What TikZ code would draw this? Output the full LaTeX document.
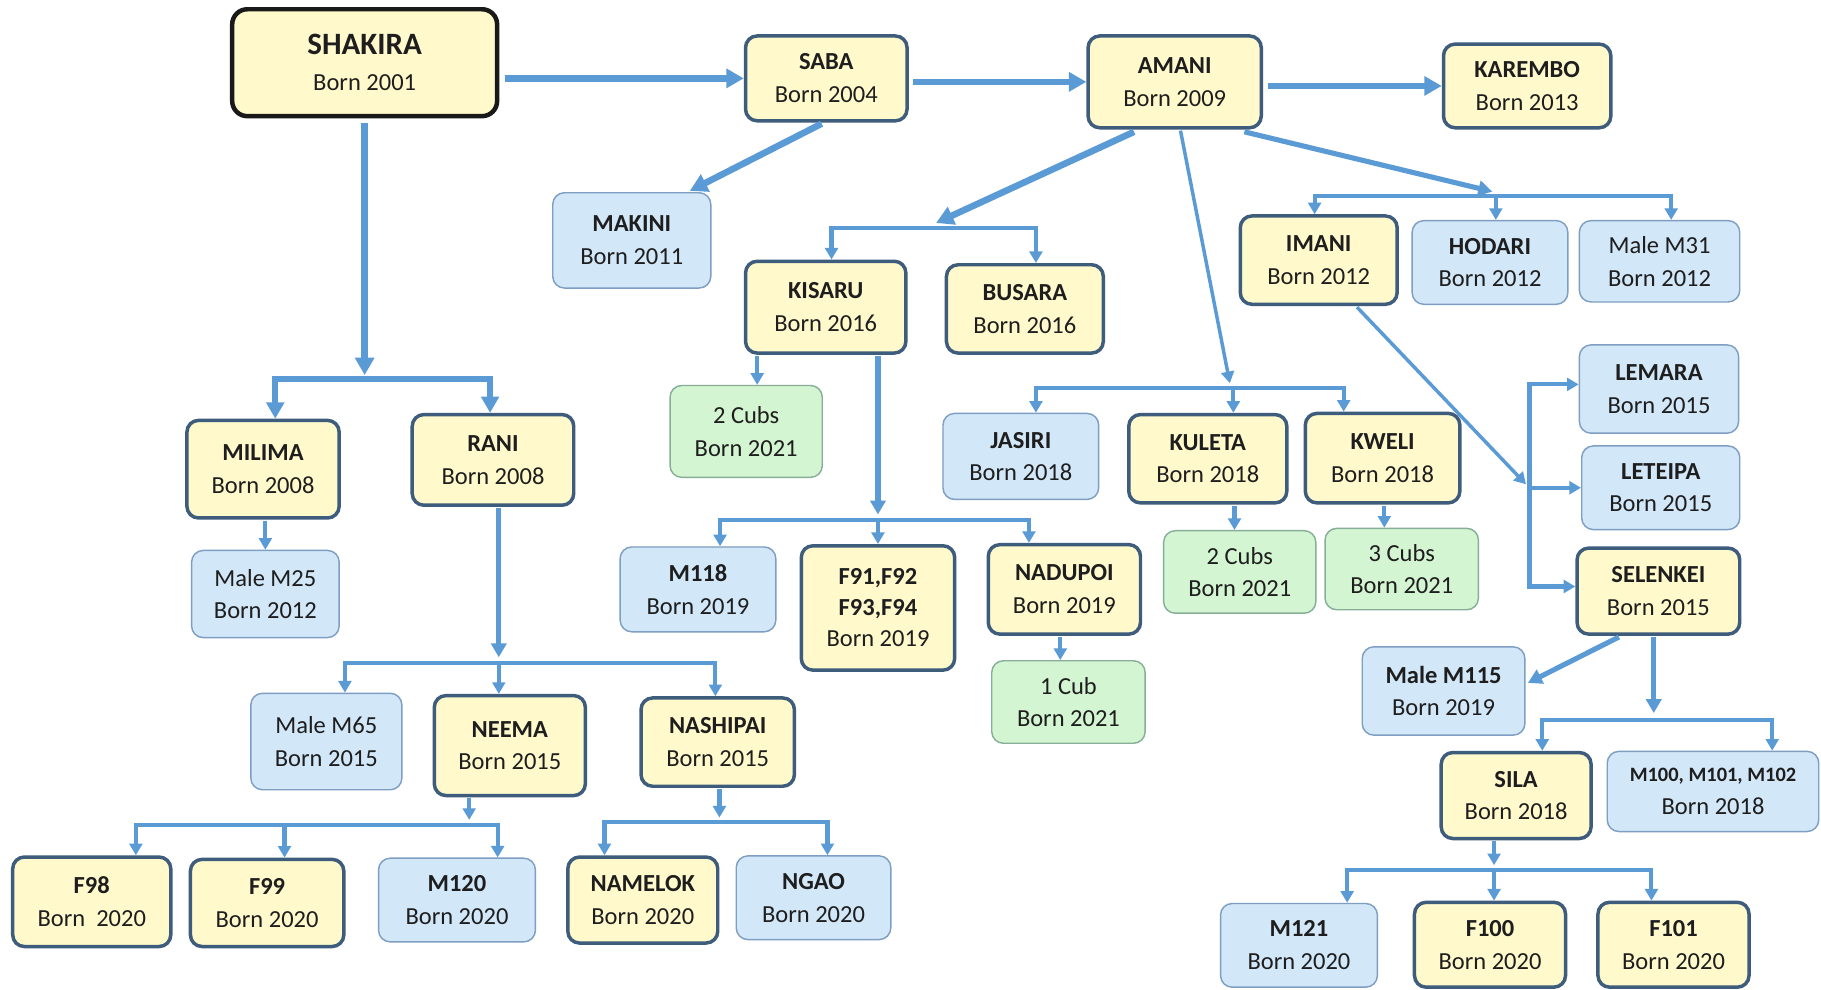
\documentclass[tikz,border=0pt]{standalone}
\usepackage{fontspec}
\setmainfont{Carlito}
\usetikzlibrary{arrows.meta}
\definecolor{arr}{HTML}{5B9BD5}
\definecolor{yfill}{HTML}{FFF9CC}
\definecolor{yline}{HTML}{3E5C7C}
\definecolor{bfill}{HTML}{D2E7F8}
\definecolor{bline}{HTML}{7E9EC2}
\definecolor{gfill}{HTML}{D4F5D1}
\definecolor{gline}{HTML}{86AE98}
\definecolor{txt}{HTML}{1E1E1E}
\begin{document}
\begin{tikzpicture}[x=0.01cm,y=-0.01cm,
  box/.style={rounded corners=0.1cm, align=center, inner sep=0pt, text=txt, font=\fontsize{6}{8}\selectfont},
  ybox/.style={box, fill=yfill, draw=yline, line width=0.85pt},
  bbox/.style={box, fill=bfill, draw=bline, line width=0.35pt},
  gbox/.style={box, fill=gfill, draw=gline, line width=0.35pt},
  main/.style={draw=arr, line width=1.6pt, -{Triangle[length=0.15cm,width=0.16cm]}},
  med/.style={draw=arr, line width=1.25pt, -{Triangle[length=0.12cm,width=0.13cm]}},
  thinarr/.style={draw=arr, line width=0.85pt, -{Triangle[length=0.1cm,width=0.11cm]}},
  sm/.style={draw=arr, line width=1.0pt, -{Triangle[length=0.1cm,width=0.11cm]}},
  brk/.style={draw=arr, line width=1.0pt, line join=miter, {Triangle[length=0.1cm,width=0.11cm]}-{Triangle[length=0.1cm,width=0.11cm]}},
  brkA/.style={draw=arr, line width=1.5pt, line join=miter, {Triangle[length=0.14cm,width=0.15cm]}-{Triangle[length=0.14cm,width=0.15cm]}}
]
\fill[white] (0,0) rectangle (1568,852);
\useasboundingbox (0,0) rectangle (1568,852);

% ---------- nodes ----------
\node[box, fill=yfill, draw=black!90, line width=1.1pt, rounded corners=0.13cm, minimum width=2.28cm, minimum height=0.92cm, font=\fontsize{6}{8.8}\selectfont] (shakira) at (314,54) {{\fontsize{7.6}{8.8}\selectfont\bfseries SHAKIRA}\\Born 2001};
\node[ybox, minimum width=1.39cm, minimum height=0.73cm] (saba) at (711.5,67.5) {\textbf{SABA}\\Born 2004};
\node[ybox, minimum width=1.49cm, minimum height=0.79cm] (amani) at (1011.5,70.5) {\textbf{AMANI}\\Born 2009};
\node[ybox, minimum width=1.44cm, minimum height=0.72cm] (karembo) at (1315,74) {\textbf{KAREMBO}\\Born 2013};
\node[bbox, minimum width=1.36cm, minimum height=0.82cm] (makini) at (544,207) {\textbf{MAKINI}\\Born 2011};
\node[ybox, minimum width=1.38cm, minimum height=0.79cm] (kisaru) at (711,264.5) {\textbf{KISARU}\\Born 2016};
\node[ybox, minimum width=1.35cm, minimum height=0.76cm] (busara) at (882.5,266) {\textbf{BUSARA}\\Born 2016};
\node[ybox, minimum width=1.35cm, minimum height=0.76cm] (imani) at (1135.5,224) {\textbf{IMANI}\\Born 2012};
\node[bbox, minimum width=1.34cm, minimum height=0.72cm] (hodari) at (1283,226) {\textbf{HODARI}\\Born 2012};
\node[bbox, minimum width=1.38cm, minimum height=0.70cm] (m31) at (1429,225) {Male M31\\Born 2012};
\node[bbox, minimum width=1.37cm, minimum height=0.76cm] (lemara) at (1428.5,335) {\textbf{LEMARA}\\Born 2015};
\node[bbox, minimum width=1.36cm, minimum height=0.72cm] (leteipa) at (1430,420) {\textbf{LETEIPA}\\Born 2015};
\node[ybox, minimum width=1.40cm, minimum height=0.74cm] (selenkei) at (1428,509) {\textbf{SELENKEI}\\Born 2015};
\node[ybox, minimum width=1.31cm, minimum height=0.84cm] (milima) at (226.5,404) {\textbf{MILIMA}\\Born 2008};
\node[ybox, minimum width=1.39cm, minimum height=0.78cm] (rani) at (424.5,396) {\textbf{RANI}\\Born 2008};
\node[gbox, minimum width=1.31cm, minimum height=0.79cm] (cubsa) at (642.5,371.5) {2 Cubs\\Born 2021};
\node[bbox, minimum width=1.34cm, minimum height=0.74cm] (jasiri) at (879,393) {\textbf{JASIRI}\\Born 2018};
\node[ybox, minimum width=1.36cm, minimum height=0.76cm] (kuleta) at (1040,395) {\textbf{KULETA}\\Born 2018};
\node[ybox, minimum width=1.33cm, minimum height=0.77cm] (kweli) at (1190.5,394.5) {\textbf{KWELI}\\Born 2018};
\node[bbox, minimum width=1.27cm, minimum height=0.75cm] (m25) at (228.5,511.5) {Male M25\\Born 2012};
\node[bbox, minimum width=1.34cm, minimum height=0.73cm] (m118) at (601,507.5) {\textbf{M118}\\Born 2019};
\node[ybox, minimum width=1.32cm, minimum height=1.07cm, font=\fontsize{6}{7.6}\selectfont] (f91) at (756,523.5) {\textbf{F91,F92}\\\textbf{F93,F94}\\Born 2019};
\node[ybox, minimum width=1.31cm, minimum height=0.77cm] (nadupoi) at (916.5,507.5) {\textbf{NADUPOI}\\Born 2019};
\node[gbox, minimum width=1.31cm, minimum height=0.71cm] (cubsb) at (1067.5,492.5) {2 Cubs\\Born 2021};
\node[gbox, minimum width=1.32cm, minimum height=0.70cm] (cubsc) at (1207,490) {3 Cubs\\Born 2021};
\node[gbox, minimum width=1.32cm, minimum height=0.71cm] (cubone) at (920,604.5) {1 Cub\\Born 2021};
\node[bbox, minimum width=1.40cm, minimum height=0.76cm] (m115) at (1243,595) {\textbf{Male M115}\\Born 2019};
\node[bbox, minimum width=1.30cm, minimum height=0.83cm] (m65) at (281,638.5) {Male M65\\Born 2015};
\node[ybox, minimum width=1.30cm, minimum height=0.86cm] (neema) at (439,642) {\textbf{NEEMA}\\Born 2015};
\node[ybox, minimum width=1.32cm, minimum height=0.76cm] (nashipai) at (618,639) {\textbf{NASHIPAI}\\Born 2015};
\node[ybox, minimum width=1.29cm, minimum height=0.74cm] (sila) at (1305.5,685) {\textbf{SILA}\\Born 2018};
\node[bbox, minimum width=1.82cm, minimum height=0.69cm] (mhundred) at (1475,681.5) {{\fontsize{5}{8}\selectfont\bfseries M100, M101, M102}\\Born 2018};
\node[ybox, minimum width=1.36cm, minimum height=0.77cm] (f98) at (79,776.5) {\textbf{F98}\\Born\ \ 2020};
\node[ybox, minimum width=1.32cm, minimum height=0.75cm] (f99) at (230,777.5) {\textbf{F99}\\Born 2020};
\node[bbox, minimum width=1.35cm, minimum height=0.72cm] (m120) at (393.5,775) {\textbf{M120}\\Born 2020};
\node[ybox, minimum width=1.29cm, minimum height=0.74cm] (namelok) at (553.5,775) {\textbf{NAMELOK}\\Born 2020};
\node[bbox, minimum width=1.33cm, minimum height=0.72cm] (ngao) at (700.5,773) {\textbf{NGAO}\\Born 2020};
\node[bbox, minimum width=1.35cm, minimum height=0.72cm] (mone) at (1118.5,814) {\textbf{M121}\\Born 2020};
\node[ybox, minimum width=1.30cm, minimum height=0.73cm] (fhundred) at (1283,813.5) {\textbf{F100}\\Born 2020};
\node[ybox, minimum width=1.30cm, minimum height=0.73cm] (fone) at (1441,813.5) {\textbf{F101}\\Born 2020};

% ---------- junction coordinates ----------
\coordinate (a0) at (314,323);   \coordinate (a1) at (237,326);   \coordinate (a2) at (422,326);
\coordinate (b0) at (806,192);   \coordinate (b1) at (716,196);   \coordinate (b2) at (892,196);
\coordinate (c0) at (1285,165);  \coordinate (c1) at (1132,169);  \coordinate (c2) at (1439,169);  \coordinate (c3) at (1288,169);
\coordinate (d0) at (1059,330);  \coordinate (d1) at (892,334);   \coordinate (d2) at (1157,334);  \coordinate (d3) at (1062,334);
\coordinate (e0) at (1314,417);  \coordinate (e1) at (1317,331);  \coordinate (e2) at (1317,505);  \coordinate (e3) at (1317,420);
\coordinate (f0) at (756,443);   \coordinate (f1) at (620,448);   \coordinate (f2) at (886,448);   \coordinate (f3) at (756,448);
\coordinate (g0) at (429.5,566); \coordinate (g1) at (297,571);   \coordinate (g2) at (616,571);   \coordinate (g3) at (429.5,571);
\coordinate (h0) at (404,706);   \coordinate (h1) at (117,710);   \coordinate (h2) at (428.5,710); \coordinate (h3) at (245,710);
\coordinate (i0) at (619.5,704); \coordinate (i1) at (520.5,708); \coordinate (i2) at (712.5,708);
\coordinate (j0) at (1424,614);  \coordinate (j1) at (1328,620);  \coordinate (j2) at (1526,620);
\coordinate (k0) at (1286.5,745);\coordinate (k1) at (1160,749);  \coordinate (k2) at (1422,749);  \coordinate (k3) at (1286.5,749);

% ---------- connectors ----------
\draw[main, shorten <=0.05cm] (shakira.east |- saba.west) -- (saba.west);
\draw[main, shorten <=0.04cm] (saba.east |- amani.west) -- (amani.west);
\draw[main, shorten <=0.04cm] (amani.east |- karembo.west) -- (karembo.west);

\draw[main, shorten <=0.04cm] (shakira.south) -- (a0);
\draw[brkA] (a1 |- milima.north) -- (a1) -- (a2) -- (a2 |- rani.north);

\draw[main] ([shift={(-4,1)}]saba.south) -- ([shift={(50,-1)}]makini.north);

\draw[main] ([shift={(-35,2)}]amani.south) -- (b0);
\draw[brk] (b1 |- kisaru.north) -- (b1) -- (b2) -- (b2 |- busara.north);

\draw[med] ([shift={(60,2)}]amani.south) -- (c0);
\draw[brk] (c1 |- imani.north) -- (c1) -- (c2) -- (c2 |- m31.north);
\draw[sm] (c3) -- (c3 |- hodari.north);

\draw[thinarr] ([shift={(5,1)}]amani.south) -- (d0);
\draw[brk] (d1 |- jasiri.north) -- (d1) -- (d2) -- (d2 |- kweli.north);
\draw[sm] (d3) -- (d3 |- kuleta.north);

\draw[thinarr] ([shift={(33,1)}]imani.south) -- (e0);
\draw[brk] (e1 -| lemara.west) -- (e1) -- (e2) -- (e2 -| selenkei.west);
\draw[sm] (e3) -- (e3 -| leteipa.west);

\draw[sm] ([shift={(-59,1)}]kisaru.south) -- ([shift={(9.5,0)}]cubsa.north);
\draw[med] ([shift={(45,1)}]kisaru.south) -- (f0);
\draw[brk] (f1 |- m118.north) -- (f1) -- (f2) -- (f2 |- nadupoi.north);
\draw[sm] (f3) -- (f3 |- f91.north);

\draw[sm] ([shift={(23,1)}]kuleta.south) -- ([shift={(-4.5,0)}]cubsb.north);
\draw[sm] ([shift={(1.5,1)}]kweli.south) -- ([shift={(-15,0)}]cubsc.north);
\draw[sm] ([shift={(-3.5,1)}]nadupoi.south) -- ([shift={(-7,0)}]cubone.north);
\draw[sm] ([shift={(2,1)}]milima.south) -- (m25.north);

\draw[med] ([shift={(5,1)}]rani.south) -- (g0);
\draw[brk] (g1 |- m65.north) -- (g1) -- (g2) -- (g2 |- nashipai.north);
\draw[sm] (g3) -- (g3 |- neema.north);

\draw[sm] ([shift={(-35,1)}]neema.south) -- (h0);
\draw[brk] (h1 |- f98.north) -- (h1) -- (h2) -- (h2 |- m120.north);
\draw[sm] (h3) -- (h3 |- f99.north);

\draw[sm] ([shift={(1.5,1)}]nashipai.south) -- (i0);
\draw[brk] (i1 |- namelok.north) -- (i1) -- (i2) -- (i2 |- ngao.north);

\draw[med] ([shift={(-34,1)}]selenkei.south) -- ([shift={(2,-7)}]m115.east);
\draw[med] ([shift={(-4,1)}]selenkei.south) -- (j0);
\draw[brk] (j1 |- sila.north) -- (j1) -- (j2) -- (j2 |- mhundred.north);

\draw[sm] ([shift={(-19,1)}]sila.south) -- (k0);
\draw[brk] (k1 |- mone.north) -- (k1) -- (k2) -- (k2 |- fone.north);
\draw[sm] (k3) -- (k3 |- fhundred.north);
\end{tikzpicture}
\end{document}
